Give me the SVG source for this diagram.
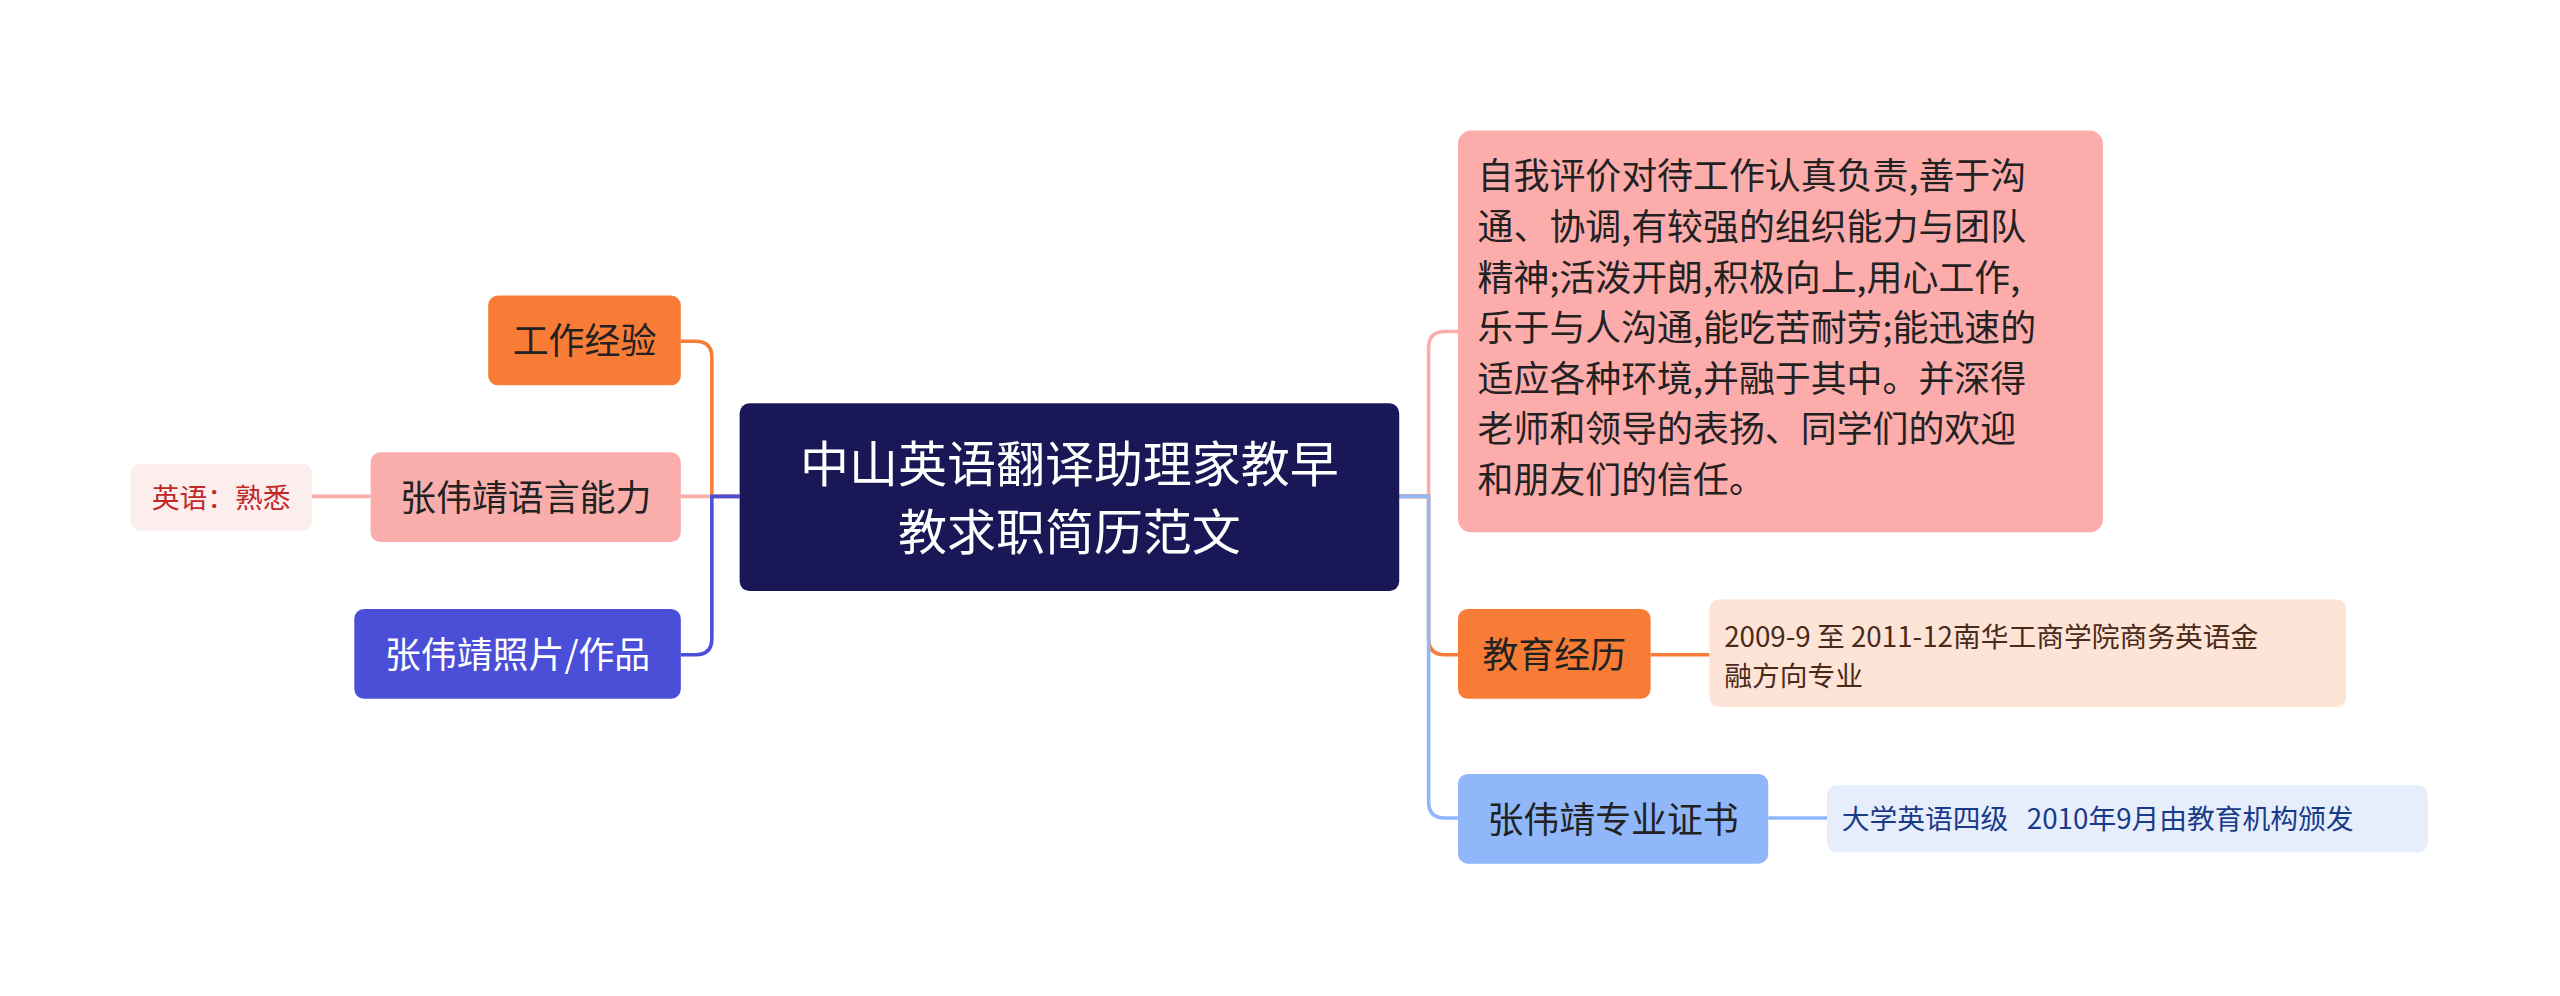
<svg xmlns="http://www.w3.org/2000/svg" width="2560" height="996" viewBox="0 0 2560 996">
<style>
text{font-family:"Noto Sans CJK SC","Noto Sans",sans-serif}
.c{fill:none;stroke-width:2.2}
</style>
<rect width="2560" height="996" fill="#fff"/>
<g transform="scale(1.6327)">
<g id="connectors">
<path class="c" stroke="#f97c36" d="M453,304 H436 V219 Q436,209 426,209 H417"/>
<path class="c" stroke="#f9aeac" d="M453,304 H417"/>
<path class="c" stroke="#4b4fd8" d="M453,304 H436 V391 Q436,401 426,401 H417"/>
<path class="c" stroke="#f9aeac" d="M191,304 H227"/>
<path class="c" stroke="#f9aeac" d="M857,304 H875 V213 Q875,203 885,203 H893"/>
<path class="c" stroke="#f97c36" d="M857,304 H875 V391 Q875,401 885,401 H893"/>
<path class="c" stroke="#8fb7f9" d="M857,304 H875 V491 Q875,501 885,501 H893"/>
<path class="c" stroke="#f97c36" d="M1011,401 H1047"/>
<path class="c" stroke="#8fb7f9" d="M1083,501 H1119"/>
</g>
<g id="center"><rect x="453" y="247" width="404" height="115" rx="6" fill="#1a1756"/>
<text x="655" y="295" font-size="30" fill="#fff" text-anchor="middle">中山英语翻译助理家教早</text>
<text x="655" y="337" font-size="30" fill="#fff" text-anchor="middle">教求职简历范文</text></g>
<g id="work"><rect x="299" y="181" width="118" height="55" rx="6" fill="#f97c36"/>
<text x="358" y="217" font-size="22" fill="#222" text-anchor="middle">工作经验</text></g>
<g id="lang"><rect x="227" y="277" width="190" height="55" rx="6" fill="#f9aeac"/>
<text x="322" y="313" font-size="22" fill="#222" text-anchor="middle">张伟靖语言能力</text></g>
<g id="langd"><rect x="80" y="284" width="111" height="41" rx="6" fill="#fdeeee"/>
<text x="135.5" y="311" font-size="17" fill="#c0282a" text-anchor="middle">英语：熟悉</text></g>
<g id="photo"><rect x="217" y="373" width="200" height="55" rx="6" fill="#4b4fd8"/>
<text x="317" y="409" font-size="22" fill="#fff" text-anchor="middle">张伟靖照片/作品</text></g>
<g id="self"><rect x="893" y="80" width="395" height="246" rx="8" fill="#fdacac"/>
<text font-size="22" fill="#222">
<tspan x="905" y="116">自我评价对待工作认真负责,善于沟</tspan>
<tspan x="905" y="147">通、协调,有较强的组织能力与团队</tspan>
<tspan x="905" y="178">精神;活泼开朗,积极向上,用心工作,</tspan>
<tspan x="905" y="209">乐于与人沟通,能吃苦耐劳;能迅速的</tspan>
<tspan x="905" y="240">适应各种环境,并融于其中。并深得</tspan>
<tspan x="905" y="271">老师和领导的表扬、同学们的欢迎</tspan>
<tspan x="905" y="302">和朋友们的信任。</tspan></text></g>
<g id="edu"><rect x="893" y="373" width="118" height="55" rx="6" fill="#f97c36"/>
<text x="952" y="409" font-size="22" fill="#222" text-anchor="middle">教育经历</text></g>
<g id="edud"><rect x="1047" y="367" width="390" height="66" rx="6" fill="#fde4d6"/>
<text font-size="17" fill="#4a2a1a"><tspan x="1056" y="396">2009-9 至 2011-12南华工商学院商务英语金</tspan><tspan x="1056" y="420">融方向专业</tspan></text></g>
<g id="cert"><rect x="893" y="474" width="190" height="55" rx="6" fill="#8fb7f9"/>
<text x="988" y="510" font-size="22" fill="#222" text-anchor="middle">张伟靖专业证书</text></g>
<g id="certd"><rect x="1119" y="481" width="368" height="41" rx="6" fill="#e6eefc"/>
<text x="1128" y="508" font-size="17" fill="#1a3a8a" xml:space="preserve">大学英语四级   2010年9月由教育机构颁发</text></g>
</g>
</svg>
